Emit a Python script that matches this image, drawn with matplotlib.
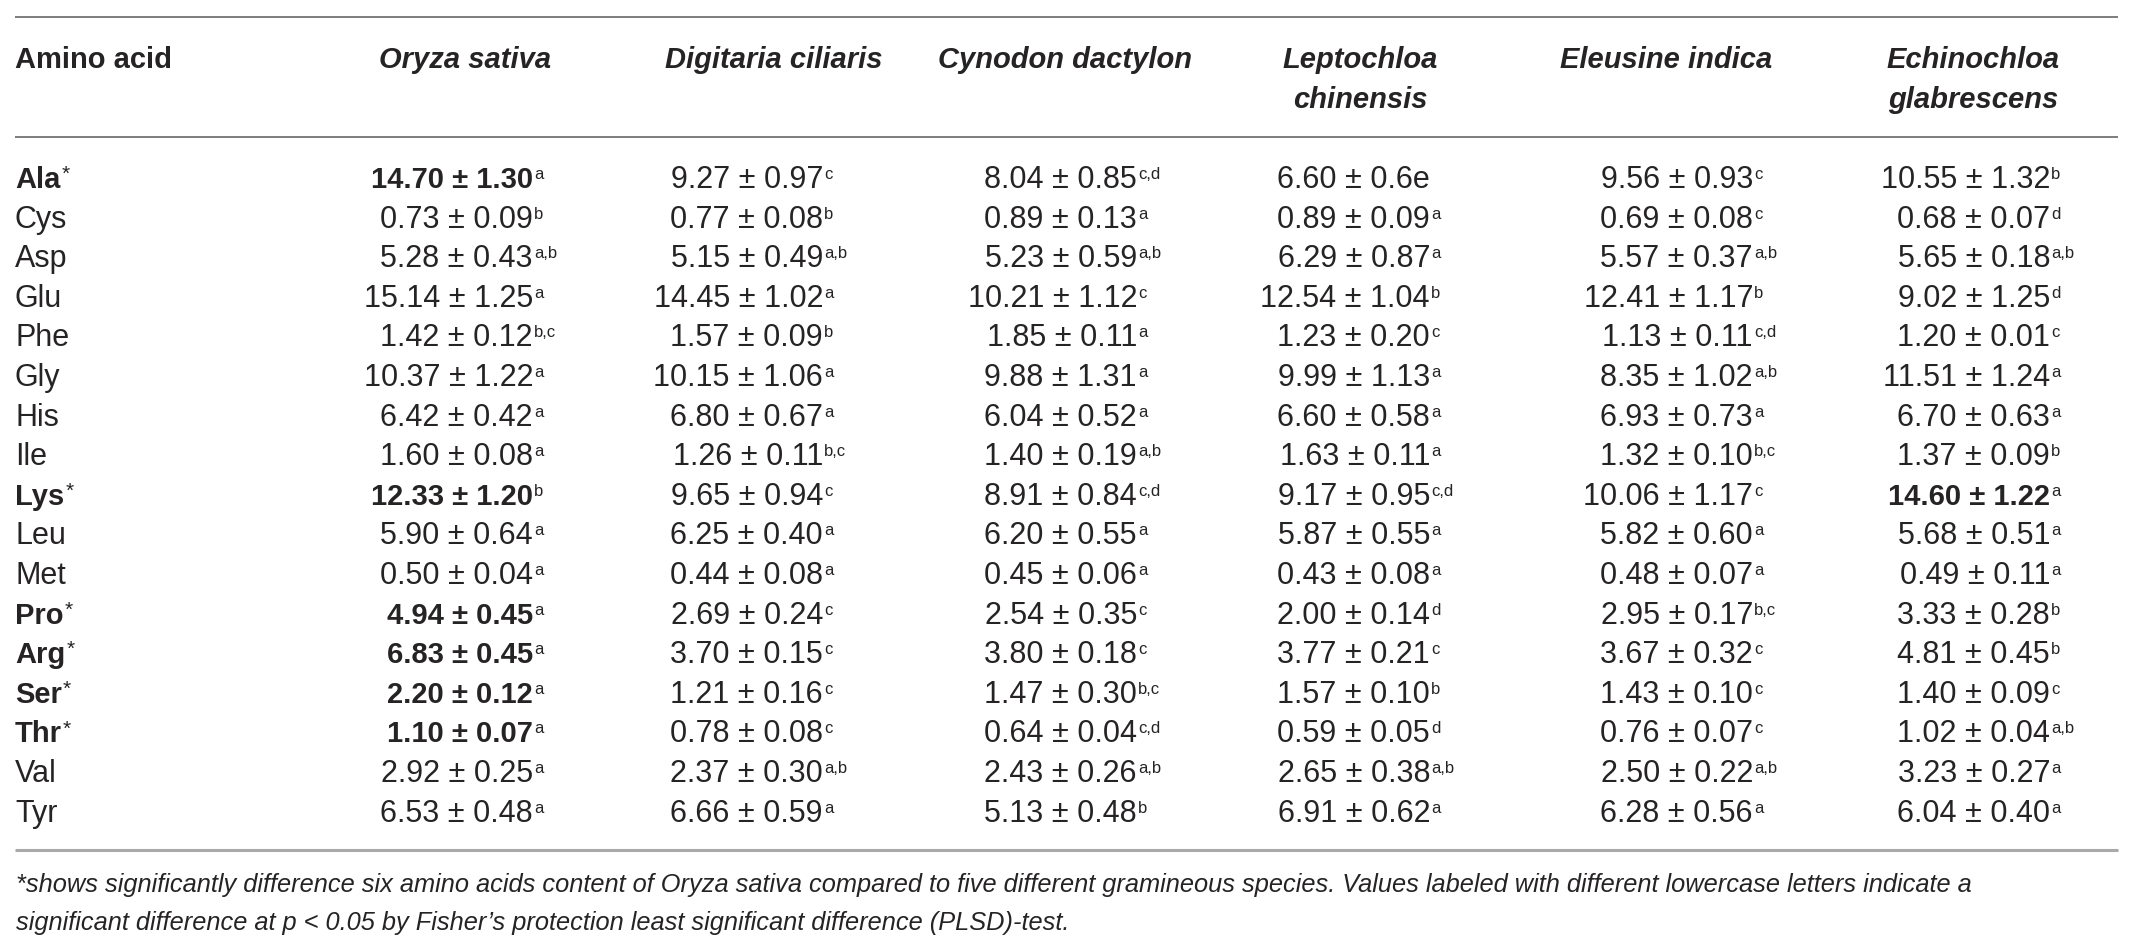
import matplotlib
matplotlib.use("Agg")
import matplotlib.pyplot as plt

# ---------------- data ----------------
amino_acids = ["Ala", "Cys", "Asp", "Glu", "Phe", "Gly", "His", "Ile", "Lys",
               "Leu", "Met", "Pro", "Arg", "Ser", "Thr", "Val", "Tyr"]
starred = ["Ala", "Lys", "Pro", "Arg", "Ser", "Thr"]

species = ["Oryza sativa", "Digitaria ciliaris", "Cynodon dactylon",
           "Leptochloa\nchinensis", "Eleusine indica", "Echinochloa\nglabrescens"]

oryza_mean = ["14.70", "0.73", "5.28", "15.14", "1.42", "10.37", "6.42", "1.60", "12.33",
              "5.90", "0.50", "4.94", "6.83", "2.20", "1.10", "2.92", "6.53"]
oryza_sd = ["1.30", "0.09", "0.43", "1.25", "0.12", "1.22", "0.42", "0.08", "1.20",
            "0.64", "0.04", "0.45", "0.45", "0.12", "0.07", "0.25", "0.48"]
oryza_let = ["a", "b", "a,b", "a", "b,c", "a", "a", "a", "b",
             "a", "a", "a", "a", "a", "a", "a", "a"]

digit_mean = ["9.27", "0.77", "5.15", "14.45", "1.57", "10.15", "6.80", "1.26", "9.65",
              "6.25", "0.44", "2.69", "3.70", "1.21", "0.78", "2.37", "6.66"]
digit_sd = ["0.97", "0.08", "0.49", "1.02", "0.09", "1.06", "0.67", "0.11", "0.94",
            "0.40", "0.08", "0.24", "0.15", "0.16", "0.08", "0.30", "0.59"]
digit_let = ["c", "b", "a,b", "a", "b", "a", "a", "b,c", "c",
             "a", "a", "c", "c", "c", "c", "a,b", "a"]

cyn_mean = ["8.04", "0.89", "5.23", "10.21", "1.85", "9.88", "6.04", "1.40", "8.91",
            "6.20", "0.45", "2.54", "3.80", "1.47", "0.64", "2.43", "5.13"]
cyn_sd = ["0.85", "0.13", "0.59", "1.12", "0.11", "1.31", "0.52", "0.19", "0.84",
          "0.55", "0.06", "0.35", "0.18", "0.30", "0.04", "0.26", "0.48"]
cyn_let = ["c,d", "a", "a,b", "c", "a", "a", "a", "a,b", "c,d",
           "a", "a", "c", "c", "b,c", "c,d", "a,b", "b"]

lep_mean = ["6.60", "0.89", "6.29", "12.54", "1.23", "9.99", "6.60", "1.63", "9.17",
            "5.87", "0.43", "2.00", "3.77", "1.57", "0.59", "2.65", "6.91"]
lep_sd = ["0.6e", "0.09", "0.87", "1.04", "0.20", "1.13", "0.58", "0.11", "0.95",
          "0.55", "0.08", "0.14", "0.21", "0.10", "0.05", "0.38", "0.62"]
lep_let = ["", "a", "a", "b", "c", "a", "a", "a", "c,d",
           "a", "a", "d", "c", "b", "d", "a,b", "a"]

ele_mean = ["9.56", "0.69", "5.57", "12.41", "1.13", "8.35", "6.93", "1.32", "10.06",
            "5.82", "0.48", "2.95", "3.67", "1.43", "0.76", "2.50", "6.28"]
ele_sd = ["0.93", "0.08", "0.37", "1.17", "0.11", "1.02", "0.73", "0.10", "1.17",
          "0.60", "0.07", "0.17", "0.32", "0.10", "0.07", "0.22", "0.56"]
ele_let = ["c", "c", "a,b", "b", "c,d", "a,b", "a", "b,c", "c",
           "a", "a", "b,c", "c", "c", "c", "a,b", "a"]

ech_mean = ["10.55", "0.68", "5.65", "9.02", "1.20", "11.51", "6.70", "1.37", "14.60",
            "5.68", "0.49", "3.33", "4.81", "1.40", "1.02", "3.23", "6.04"]
ech_sd = ["1.32", "0.07", "0.18", "1.25", "0.01", "1.24", "0.63", "0.09", "1.22",
          "0.51", "0.11", "0.28", "0.45", "0.09", "0.04", "0.27", "0.40"]
ech_let = ["b", "d", "a,b", "d", "c", "a", "a", "b", "a",
           "a", "a", "b", "b", "c", "a,b", "a", "a"]

columns = [(oryza_mean, oryza_sd, oryza_let),
           (digit_mean, digit_sd, digit_let),
           (cyn_mean, cyn_sd, cyn_let),
           (lep_mean, lep_sd, lep_let),
           (ele_mean, ele_sd, ele_let),
           (ech_mean, ech_sd, ech_let)]

# bold cells: (column index, amino acid)
bold_cells = [(0, a) for a in starred] + [(5, "Lys")]

footnote_lines = [
    "*shows significantly difference six amino acids content of Oryza sativa compared to five "
    "different gramineous species. Values labeled with different lowercase letters indicate a",
    "significant difference at p < 0.05 by Fisher\u2019s protection least significant difference (PLSD)-test.",
]

# ---------------- layout ----------------
W, H = 2137, 951
fig = plt.figure(figsize=(W / 100, H / 100), dpi=100)
ax = fig.add_axes([0, 0, 1, 1])
ax.set_xlim(0, W)
ax.set_ylim(H, 0)
ax.axis("off")
renderer = fig.canvas.get_renderer()

FONT = "Liberation Sans"
TXT = "#262324"
FS_HEAD = 21
FS = 22
FS_BOLD = 21
FS_SUP = 12
CAP = 20
SUP_RAISE = 9

col_centers = [465, 774, 1065, 1360, 1666, 1973]
col_right = [533, 823, 1137, 1430, 1753, 2050]
x_left, x_end = 15, 2118
row_y0, row_dy = 178, 39.6


def width(t):
    return t.get_window_extent(renderer).width


# rules
ax.plot([x_left, x_end], [17, 17], color="#7d7d7d", lw=1.4, solid_capstyle="butt")
ax.plot([x_left, x_end], [137, 137], color="#7d7d7d", lw=1.4, solid_capstyle="butt")
ax.plot([x_left, x_end], [850, 850], color="#a9a9a9", lw=2.2, solid_capstyle="butt")

# header
ax.text(x_left, 58 + CAP / 2, "Amino acid", ha="left", va="baseline", fontsize=FS_HEAD,
        fontweight="bold", family=FONT, color=TXT)
for cx, name in zip(col_centers, species):
    for k, line in enumerate(name.split("\n")):
        ax.text(cx, 58 + 40 * k + CAP / 2, line, ha="center", va="baseline", fontsize=FS_HEAD,
                fontweight="bold", style="italic", family=FONT, color=TXT)

# body
for i, aa in enumerate(amino_acids):
    base = row_y0 + i * row_dy + CAP / 2
    is_star = aa in starred
    t = ax.text(x_left, base, aa, ha="left", va="baseline",
                fontsize=FS_BOLD if is_star else FS,
                fontweight="bold" if is_star else "normal", family=FONT, color=TXT)
    if is_star:
        ax.text(x_left + width(t) + 1, base - SUP_RAISE + 1, "*", ha="left", va="baseline",
                fontsize=FS_SUP + 3, family=FONT, color=TXT)
    for c, (means, sds, lets) in enumerate(columns):
        bold = (c, aa) in bold_cells
        ax.text(col_right[c], base, f"{means[i]} \u00b1 {sds[i]}", ha="right", va="baseline",
                fontsize=FS_BOLD if bold else FS, fontweight="bold" if bold else "normal",
                family=FONT, color=TXT)
        if lets[i]:
            ax.text(col_right[c] + 1, base - SUP_RAISE, lets[i], ha="left", va="baseline",
                    fontsize=FS_SUP, family=FONT, color=TXT)

# footnote
for k, line in enumerate(footnote_lines):
    ax.text(16, 883 + 38 * k + 9, line, ha="left", va="baseline", fontsize=18.3,
            style="italic", family=FONT, color=TXT)

fig.savefig("out.png", dpi=100)
